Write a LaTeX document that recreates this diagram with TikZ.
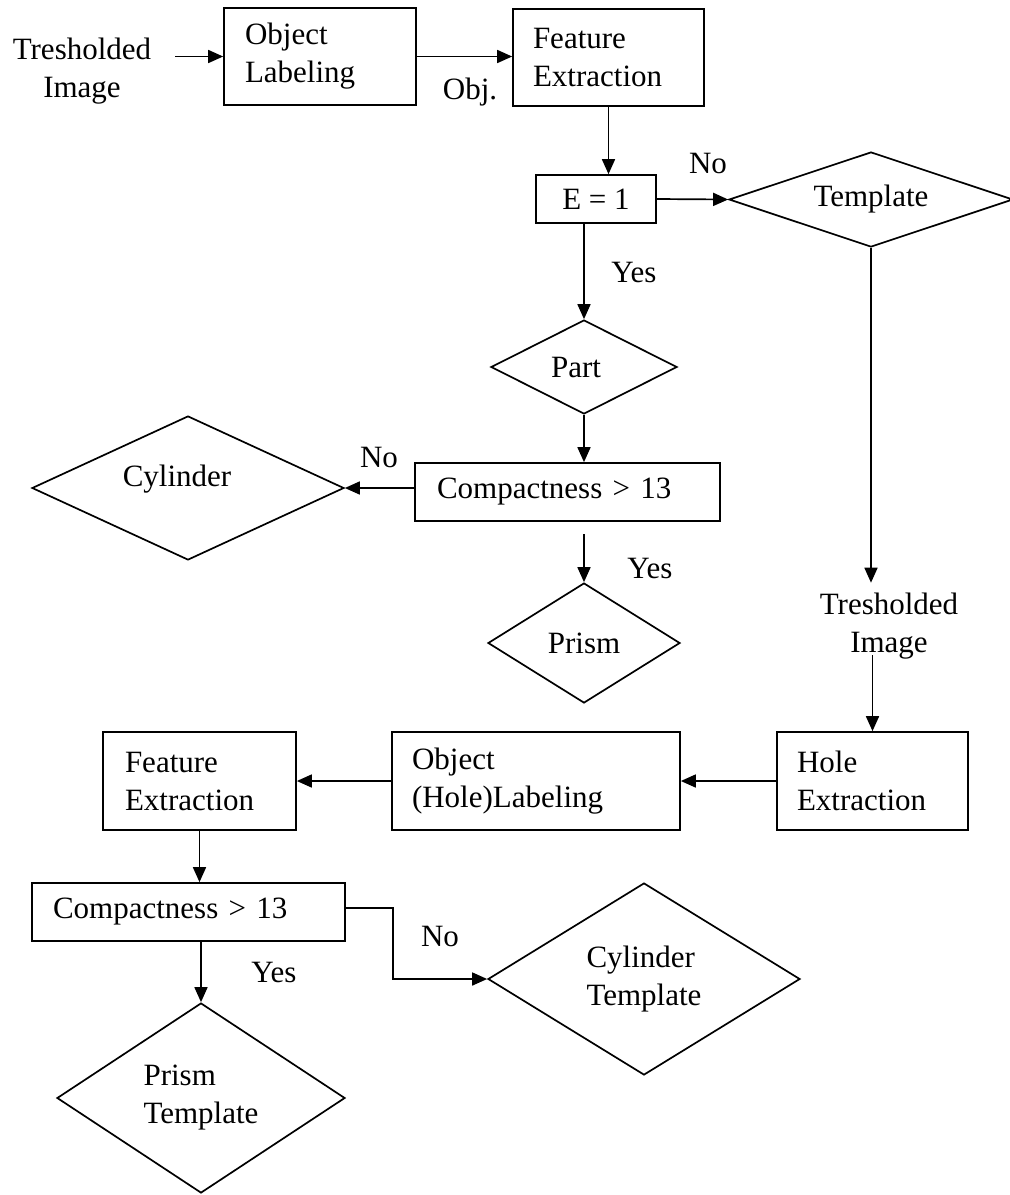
\documentclass[tikz,border=0pt]{standalone}
\usepackage{fontspec}
\setmainfont{Liberation Serif}
\usetikzlibrary{shapes.geometric,arrows.meta,calc}
\begin{document}
\begin{tikzpicture}[x=1pt,y=-1pt,
  every node/.style={font=\fontsize{31}{38}\selectfont},
  box/.style={draw,line width=1.7pt,rectangle,align=left,inner ysep=0pt},
  dia/.style={draw,line width=1.7pt,diamond,inner sep=0pt,align=left},
  arr/.style={line width=1.7pt,-{Triangle[length=15pt,width=13pt]}},
  lbl/.style={inner sep=0pt}]
\useasboundingbox[fill=white] (0,0) rectangle (1010,1195);

% top row
\node[align=center,inner xsep=24pt,inner ysep=0pt] (ti1) at (82,71) {Tresholded\\Image};
\node[box,minimum width=192pt,minimum height=97pt,text width=150pt,inner xsep=21pt] (ol) at (320,56.5) {Object\\Labeling};
\node[box,minimum width=191pt,minimum height=97pt,text width=151pt,inner xsep=20pt] (fe1) at (608.5,57.5) {Feature\\Extraction};
\node[box,minimum width=120pt,minimum height=48pt,inner xsep=0pt,align=center] (e1) at (596,199) {E = 1};
\node[dia,aspect=2.99,minimum width=284pt,minimum height=95pt] (tmpl) at (871,199.5) {Template};

% left branch
\node[dia,aspect=1.98,minimum width=186pt,minimum height=94pt] (part) at (584,367) {Part\hspace*{16pt}};
\node[box,minimum width=305pt,minimum height=58pt,text width=261pt,inner xsep=22pt] (c1) at (567.5,492) {Compactness > 13};
\node[dia,aspect=2.17,minimum width=312pt,minimum height=144pt] (cyl) at (188,488) {\raisebox{25pt}{Cylinder}\hspace*{22pt}};
\node[dia,aspect=1.6,minimum width=192pt,minimum height=120pt] (prism) at (584,643) {Prism};
\coordinate (c1y) at (584,534);

% right branch
\node[align=center,inner xsep=0pt,inner ysep=10pt] (ti2) at (889,626) {Tresholded\\Image};
\node[box,minimum width=191pt,minimum height=98pt,text width=151pt,inner xsep=20pt] (hole) at (872.5,781) {Hole\\Extraction};
\node[box,minimum width=288pt,minimum height=98pt,text width=248pt,inner xsep=20pt] (ohl) at (536,781) {Object\\(Hole)Labeling};
\node[box,minimum width=193pt,minimum height=98pt,text width=149pt,inner xsep=22pt] (fe2) at (199.5,781) {Feature\\Extraction};
\node[box,minimum width=313pt,minimum height=58pt,text width=271pt,inner xsep=21pt] (c2) at (188.5,912) {Compactness > 13};
\node[dia,aspect=1.625,minimum width=312pt,minimum height=192pt] (ctmpl) at (644,979) {Cylinder\\Template};
\node[dia,aspect=1.516,minimum width=288pt,minimum height=190pt] (ptmpl) at (201,1098) {Prism\\Template};

% labels
\node[lbl] (obj) at (470,92) {Obj.};
\node[lbl] (no1) at (708,163) {No};
\node[lbl] (yes1) at (634,272) {Yes};
\node[lbl] (no2) at (379,457) {No};
\node[lbl] (yes2) at (650,568) {Yes};
\node[lbl] (no3) at (440,936) {No};
\node[lbl] (yes3) at (274,972) {Yes};

% connectors
\draw[arr] (ti1.east |- ol.west) -- (ol.west);
\draw[arr] (ol.east) -- (fe1.west |- ol.east);
\draw[arr] (fe1.south) -- (fe1.south |- e1.north);
\draw[arr] (e1.east) -- (tmpl.west);
\draw[arr] (part.north |- e1.south) -- (part.north);
\draw[arr] (part.south) -- (part.south |- c1.north);
\draw[arr] (c1.west |- cyl.east) -- (cyl.east);
\draw[arr] (c1y) -- (prism.north);
\draw[arr] (tmpl.south) -- (tmpl.south |- ti2.north);
\draw[arr,shorten <=-14pt] (hole.north |- ti2.south) -- (hole.north);
\draw[arr] (hole.west) -- (ohl.east);
\draw[arr] (ohl.west) -- (fe2.east);
\draw[arr] (fe2.south) -- (fe2.south |- c2.north);
\draw[arr] (ptmpl.north |- c2.south) -- (ptmpl.north);
\draw[arr] ([yshift=4pt]c2.east) -- ++(47,0) |- (ctmpl.west);
\end{tikzpicture}
\end{document}
